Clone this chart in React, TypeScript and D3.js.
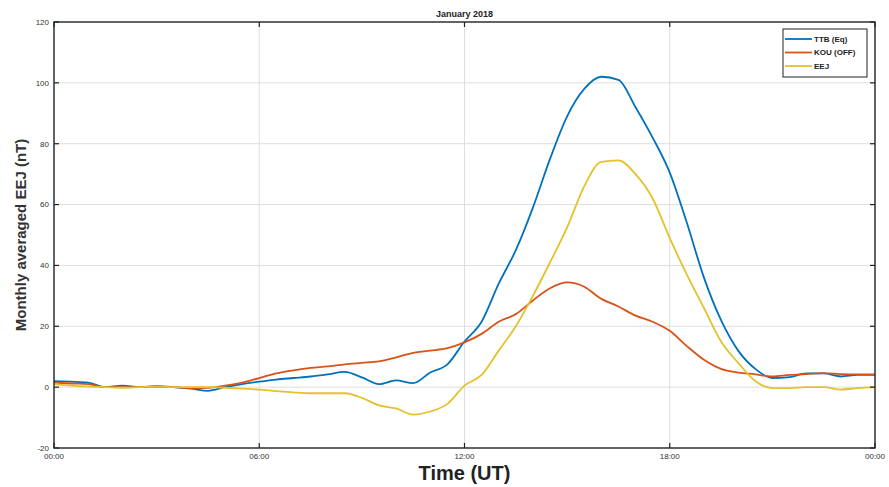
import React from "react";
import * as d3 from "d3";

const hours: number[] = d3.range(0, 24.01, 0.5);

const ttb: number[] = [
  2, 1.8, 1.5, 0, 0.5, 0, 0.3, 0, -0.5, -1.2,
  0, 1, 1.8, 2.5, 3, 3.5, 4.2, 5, 3.2, 1,
  2.2, 1.3, 4.8, 7.5, 15, 21.5, 34, 45, 59, 75,
  89, 98, 102, 101, 92, 82, 70.5, 54, 36, 22,
  12, 6, 3, 3.3, 4.5, 4.5, 3.5, 4, 4,
];

const kou: number[] = [
  1.5, 1.2, 1, 0, 0, 0, 0.2, 0, -0.3, -0.2,
  0.5, 1.5, 3, 4.5, 5.5, 6.3, 6.8, 7.5, 8, 8.5,
  9.8, 11.3, 12, 12.8, 14.7, 17.5, 21.5, 24, 28.5, 32.5,
  34.4, 33, 29, 26.5, 23.5, 21.5, 18.5, 13.5, 9, 6,
  4.8, 4.2, 3.5, 4, 4.3, 4.6, 4.3, 4.2, 4.2,
];

const eej: number[] = [
  1, 0.5, 0.2, 0, -0.2, 0, 0.2, 0, 0, 0,
  -0.2, -0.5, -0.8, -1.3, -1.7, -2, -2, -2, -3.5, -6,
  -7, -9, -8, -5.5, 0.5, 4, 12, 20, 30, 41,
  52.5, 66, 74, 74.5, 70, 62, 49, 37, 26, 15,
  8, 2, -0.3, -0.3, 0, 0, -0.8, -0.3, 0,
];

const seriesNames: string[] = ["TTB (Eq)", "KOU (OFF)", "EEJ"];
const seriesColors: string[] = ["#0072BD", "#D95319", "#E3C22C"];
const xTickHours: number[] = [0, 6, 12, 18, 24];
const xTickLabels: string[] = ["00:00", "06:00", "12:00", "18:00", "00:00"];
const yTicks: number[] = [-20, 0, 20, 40, 60, 80, 100, 120];

export default function App() {
  const W = 889, H = 487;
  const left = 54, right = 875, top = 22, bottom = 448;
  const x = d3.scaleLinear().domain([0, 24]).range([left, right]);
  const y = d3.scaleLinear().domain([-20, 120]).range([bottom, top]);
  const allSeries = [ttb, kou, eej];
  const line = d3
    .line<number>()
    .x((_, i) => x(hours[i]))
    .y((d) => y(d))
    .curve(d3.curveMonotoneX);
  const font = "'Liberation Sans', Arial, sans-serif";
  const tickLen = 5;

  return (
    <svg
      width={W}
      height={H}
      style={{ position: "absolute", left: 0, top: 0, background: "#fff" }}
      fontFamily={font}
    >
      {/* grid */}
      {xTickHours.slice(1, -1).map((h) => (
        <line key={"gx" + h} x1={x(h)} x2={x(h)} y1={top} y2={bottom} stroke="#dedede" strokeWidth={1} />
      ))}
      {yTicks.slice(1, -1).map((v) => (
        <line key={"gy" + v} x1={left} x2={right} y1={y(v)} y2={y(v)} stroke="#dedede" strokeWidth={1} />
      ))}

      {/* series */}
      {allSeries.map((s, i) => (
        <path key={i} d={line(s) || ""} fill="none" stroke={seriesColors[i]} strokeWidth={1.8} strokeLinejoin="round" />
      ))}

      {/* box */}
      <rect x={left} y={top} width={right - left} height={bottom - top} fill="none" stroke="#222" strokeWidth={1.4} />

      {/* ticks */}
      {yTicks.map((v) => (
        <g key={"ty" + v}>
          <line x1={left} x2={left + tickLen} y1={y(v)} y2={y(v)} stroke="#222" strokeWidth={1.2} />
          <line x1={right} x2={right - tickLen} y1={y(v)} y2={y(v)} stroke="#222" strokeWidth={1.2} />
          <text x={left - 5} y={y(v)} dy="0.35em" textAnchor="end" fontSize={8} fill="#333">
            {v}
          </text>
        </g>
      ))}
      {xTickHours.map((h, i) => (
        <g key={"tx" + i}>
          <line x1={x(h)} x2={x(h)} y1={bottom} y2={bottom - tickLen} stroke="#222" strokeWidth={1.2} />
          <line x1={x(h)} x2={x(h)} y1={top} y2={top + tickLen} stroke="#222" strokeWidth={1.2} />
          <text x={x(h)} y={bottom + 11} textAnchor="middle" fontSize={8} fill="#333">
            {xTickLabels[i]}
          </text>
        </g>
      ))}

      {/* title */}
      <text x={(left + right) / 2} y={17} textAnchor="middle" fontSize={9} fontWeight="bold" fill="#222">
        January 2018
      </text>

      {/* axis labels */}
      <text
        transform={`translate(26,${(top + bottom) / 2}) rotate(-90)`}
        textAnchor="middle"
        fontSize={15}
        fontWeight="bold"
        fill="#333"
      >
        Monthly averaged EEJ (nT)
      </text>
      <text x={(left + right) / 2} y={480} textAnchor="middle" fontSize={20} fontWeight="bold" fill="#222">
        Time (UT)
      </text>

      {/* legend */}
      <rect x={783} y={29} width={84} height={48} fill="#fff" stroke="#222" strokeWidth={1} />
      {seriesNames.map((n, i) => (
        <g key={"lg" + i}>
          <line x1={785} x2={812} y1={39 + i * 13.5} y2={39 + i * 13.5} stroke={seriesColors[i]} strokeWidth={1.8} />
          <text x={814} y={39 + i * 13.5} dy="0.35em" fontSize={8} fontWeight="bold" fill="#222">
            {n}
          </text>
        </g>
      ))}
    </svg>
  );
}
